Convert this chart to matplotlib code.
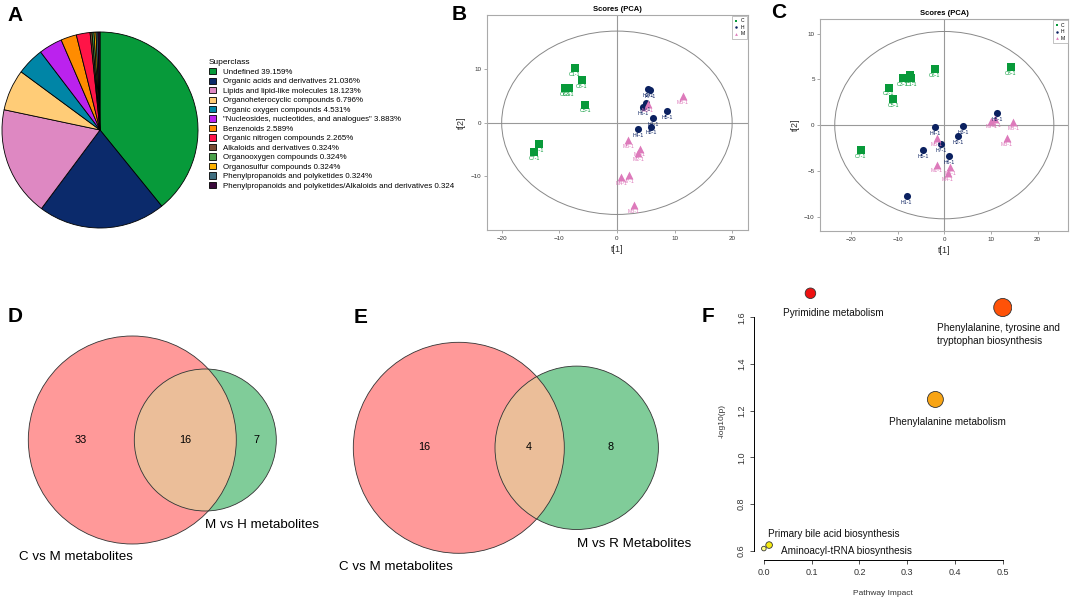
import matplotlib
matplotlib.use("Agg")
import matplotlib.pyplot as plt
from matplotlib.patches import Circle, Ellipse
import numpy as np

plt.rcParams['font.family'] = ['Liberation Sans', 'DejaVu Sans']

W, H = 1072, 607

# ---------------- Data ----------------
superclass_labels = [
    "Undefined 39.159%",
    "Organic acids and derivatives 21.036%",
    "Lipids and lipid-like molecules 18.123%",
    "Organoheterocyclic compounds 6.796%",
    "Organic oxygen compounds 4.531%",
    "\"Nucleosides, nucleotides, and analogues\" 3.883%",
    "Benzenoids 2.589%",
    "Organic nitrogen compounds 2.265%",
    "Alkaloids and derivatives 0.324%",
    "Organooxygen compounds 0.324%",
    "Organosulfur compounds 0.324%",
    "Phenylpropanoids and polyketides 0.324%",
    "Phenylpropanoids and polyketides/Alkaloids and derivatives 0.324",
]
superclass_pct = [39.159, 21.036, 18.123, 6.796, 4.531, 3.883, 2.589, 2.265,
                  0.324, 0.324, 0.324, 0.324, 0.324]
superclass_colors = ["#079a3a", "#0b2a6b", "#de88c2", "#ffcc77", "#0085a6",
                     "#bb22ee", "#ff8c00", "#ff1447", "#7a4a32", "#4aa04a",
                     "#ffb300", "#3f6e80", "#3b0a3b"]

# PCA (B)
B_C_x = [-7.3, -6.1, -9.0, -8.4, -5.5, -13.6, -14.4]
B_C_y = [10.2, 8.0, 6.5, 6.4, 3.4, -3.9, -5.5]
B_C_lab = ['C1-1', 'C8-1', 'C6-1', 'C3-1', 'C5-1', 'C4-1', 'C7-1']
B_H_x = [5.4, 5.8, 5.0, 4.6, 8.7, 6.3, 3.7, 5.9]
B_H_y = [6.3, 6.1, 3.7, 3.0, 2.2, 0.8, -1.1, -0.7]
B_H_lab = ['H2-1', 'H7-1', 'H3-1', 'H6-1', 'H5-1', 'H1-1', 'H4-1', 'H8-1']
B_M_x = [11.4, 5.4, 2.0, 4.0, 3.7, 0.75, 2.1, 2.9]
B_M_y = [5.0, 3.5, -3.2, -4.8, -5.7, -10.2, -9.8, -15.3]
B_M_lab = ['M5-1', 'M8-1', 'M6-1', 'M1-1', 'M2-1', 'M4-1', 'M7-1', 'M3-1']
B_ellipse = (20.0, 17.1)

# PCA (C)
C_C_x = [14.3, -2.1, -7.4, -8.9, -7.1, -11.9, -10.9, -17.9]
C_C_y = [6.3, 6.1, 5.5, 5.1, 5.1, 4.1, 2.8, -2.7]
C_C_lab = ['C8-1', 'C6-1', 'C4-1', 'C3-1', 'C1-1', 'C2-1', 'C5-1', 'C7-1']
C_H_x = [11.3, -2.0, 4.1, 3.0, -4.6, -0.7, 1.0, -8.1]
C_H_y = [1.3, -0.2, -0.07, -1.2, -2.7, -2.1, -3.4, -7.7]
C_H_lab = ['H8-1', 'H4-1', 'H3-1', 'H2-1', 'H5-1', 'H7-1', 'H6-1', 'H1-1']
C_M_x = [10.1, 10.9, 14.8, 13.4, -1.6, -1.6, 1.3, 0.7]
C_M_y = [0.5, 0.7, 0.3, -1.4, -1.4, -4.3, -4.6, -5.2]
C_M_lab = ['M7-1', 'M2-1', 'M8-1', 'M3-1', 'M5-1', 'M1-1', 'M6-1', 'M4-1']
C_ellipse = (23.5, 10.22)

# Venn (D, E): [only left, both, only right]
D_counts = [33, 16, 7]
D_names = ["C vs M metabolites", "M vs H metabolites"]
E_counts = [16, 4, 8]
E_names = ["C vs M metabolites", "M vs R Metabolites"]

# Pathway (F)
path_names = ["Pyrimidine metabolism",
              "Phenylalanine, tyrosine and\ntryptophan biosynthesis",
              "Phenylalanine metabolism",
              "Primary bile acid biosynthesis",
              "Aminoacyl-tRNA biosynthesis"]
path_impact = [0.0975, 0.5, 0.359, 0.011, 0.0]
path_logp = [1.703, 1.642, 1.248, 0.624, 0.609]
path_colors = ["#ee1111", "#ff5208", "#f8a414", "#f5ea10", "#ffff80"]

# ---------------- Figure ----------------
fig = plt.figure(figsize=(W / 100, H / 100), dpi=100)


def px_axes(l, t, r, b, **kw):
    return fig.add_axes([l / W, 1 - b / H, (r - l) / W, (b - t) / H], **kw)


def letter(x, yc, s):
    fig.text(x / W, 1 - yc / H, s, fontsize=15, fontweight='bold', ha='left', va='center')


# ---- A: pie ----
axA = px_axes(1, 30, 199, 230)
wedges, _ = axA.pie(superclass_pct, colors=superclass_colors, startangle=90,
                    counterclock=False, radius=1,
                    wedgeprops=dict(edgecolor='black', linewidth=0.6))
axA.set_xlim(-1.01, 1.01)
axA.set_ylim(-1.01, 1.01)
leg = axA.legend(wedges, superclass_labels, title="Superclass", loc='upper left',
                 bbox_to_anchor=(209 / W, 1 - 59.5 / H), bbox_transform=fig.transFigure,
                 frameon=False, fontsize=5.7, title_fontsize=6, alignment='left',
                 handlelength=0.85, handleheight=0.85, labelspacing=0.2,
                 handletextpad=0.9, borderaxespad=0, borderpad=0)
for h in leg.legend_handles:
    h.set_linewidth(0.6)
letter(7, 15.5, 'A')

# ---- PCA panels ----
col_C, col_H, col_M = "#089a3a", "#0b2160", "#dd7abb"


def pca_panel(ax, groups, ell, xlim, ylim, yticks):
    ax.set_xlim(*xlim)
    ax.set_ylim(*ylim)
    ax.axhline(0, color='#999999', lw=0.8, zorder=1)
    ax.axvline(0, color='#999999', lw=0.8, zorder=1)
    ax.add_patch(Ellipse((0, 0), 2 * ell[0], 2 * ell[1], fill=False,
                         edgecolor='#888888', lw=0.7, zorder=1))
    for xs, ys, labs, c, m, s, name in groups:
        ax.scatter(xs, ys, marker=m, s=s, color=c, zorder=3, label=name, linewidths=0)
        for x, y, lb in zip(xs, ys, labs):
            ax.annotate(lb, (x, y), xytext=(0, -4.6), textcoords='offset points',
                        ha='center', va='center', fontsize=3.8, color=c, zorder=4)
    for sp in ax.spines.values():
        sp.set_color('#aaaaaa')
        sp.set_linewidth(0.8)
    ax.set_xticks([-20, -10, 0, 10, 20])
    ax.set_yticks(yticks)
    ax.tick_params(labelsize=4.5, colors='#333333', length=2, width=0.5, pad=2)
    ax.tick_params(color='#888888')
    ax.set_xlabel('t[1]', fontsize=6.5, color='#333333', labelpad=3)
    ax.set_ylabel('t[2]', fontsize=6.5, color='#333333', labelpad=3)
    ax.set_title('Scores (PCA)', fontsize=5.5, fontweight='bold', pad=3)
    lg = ax.legend(loc='upper right', fontsize=3.6, markerscale=0.35, handlelength=0.6,
                   handletextpad=0.5, labelspacing=0.3, borderpad=0.5, borderaxespad=0.15,
                   fancybox=False, framealpha=1, edgecolor='#aaaaaa')
    lg.get_frame().set_linewidth(0.5)


axB = px_axes(486.7, 15, 747.7, 230)
pca_panel(axB, [(B_C_x, B_C_y, B_C_lab, col_C, 's', 26, 'C'),
                (B_H_x, B_H_y, B_H_lab, col_H, 'o', 26, 'H'),
                (B_M_x, B_M_y, B_M_lab, col_M, '^', 32, 'M')],
          B_ellipse, (-22.6, 22.7), (-20.0, 20.1), [-10, 0, 10])
letter(452, 14.5, 'B')

axC = px_axes(820.3, 19.3, 1068.3, 231)
pca_panel(axC, [(C_C_x, C_C_y, C_C_lab, col_C, 's', 26, 'C'),
                (C_H_x, C_H_y, C_H_lab, col_H, 'o', 26, 'H'),
                (C_M_x, C_M_y, C_M_lab, col_M, '^', 32, 'M')],
          C_ellipse, (-26.6, 26.6), (-11.55, 11.55), [-10, -5, 0, 5, 10])
letter(771, 13, 'C')

# ---- Venn panels (pixel coordinates) ----
axV = px_axes(0, 0, W, H)
axV.set_xlim(0, W)
axV.set_ylim(H, 0)
axV.axis('off')
red_c, green_c, both_c = "#ff9999", "#80cc99", "#ebbe99"


def venn(counts, names, cl, cr, rl, rr, textpos, namepos):
    left = Circle(cl, rl, facecolor=red_c, edgecolor='none')
    right = Circle(cr, rr, facecolor=green_c, edgecolor='none')
    axV.add_patch(left)
    axV.add_patch(right)
    ov = Circle(cr, rr, facecolor=both_c, edgecolor='none')
    axV.add_patch(ov)
    ov.set_clip_path(left)
    axV.add_patch(Circle(cl, rl, fill=False, edgecolor='#333333', lw=0.6))
    axV.add_patch(Circle(cr, rr, fill=False, edgecolor='#333333', lw=0.6))
    for (x, y), n in zip(textpos, counts):
        axV.text(x, y, str(n), fontsize=7.8, ha='center', va='center')
    for (x, y), n in zip(namepos, names):
        axV.text(x, y, n, fontsize=9.6, ha='left', va='center')


venn(D_counts, D_names, (132.3, 440), (205.3, 440), 104, 71,
     [(81, 440), (185, 440), (256, 440)], [(19, 557), (205, 525)])
letter(8, 317, 'D')
venn(E_counts, E_names, (458.8, 447.8), (576.7, 447.8), 105.5, 81.7,
     [(424.3, 446.7), (529, 446.7), (611, 446.7)], [(339.3, 567), (576.7, 544)])
letter(354, 317.5, 'E')

# ---- F: pathway impact ----
axF = px_axes(754.3, 283, 1012.3, 560)
sizes = [((2.3 + 9.5 * np.sqrt(v)) * 2 * 0.72) ** 2 for v in path_impact]
axF.scatter(path_impact, path_logp, s=sizes, c=path_colors, edgecolors='#333333',
            linewidths=0.6, zorder=3)
axF.set_xlim(-0.02, 0.52)
axF.set_ylim(0.56, 1.747)
for sp in ['top', 'right']:
    axF.spines[sp].set_visible(False)
axF.spines['left'].set_bounds(0.6, 1.6)
axF.spines['bottom'].set_bounds(0.0, 0.5)
for sp in ['left', 'bottom']:
    axF.spines[sp].set_linewidth(0.7)
axF.set_xticks([0.0, 0.1, 0.2, 0.3, 0.4, 0.5])
axF.set_yticks([0.6, 0.8, 1.0, 1.2, 1.4, 1.6])
axF.tick_params(labelsize=6.5, colors='#333333', length=3, width=0.6, pad=3)
for t in axF.get_yticklabels():
    t.set_rotation(90)
    t.set_va('center')
axF.set_xlabel('Pathway Impact', fontsize=6, color='#333333', labelpad=9)
axF.set_ylabel('-log10(p)', fontsize=6, color='#333333', labelpad=8)
label_pos = [(0.1456, 1.618, 'center'), (0.3628, 1.526, 'left'), (0.3837, 1.150, 'center'),
             (0.0077, 0.673, 'left'), (0.0349, 0.600, 'left')]
for (x, y, ha), name in zip(label_pos, path_names):
    axF.text(x, y, name, fontsize=7.2, ha=ha, va='center', color='#111111', linespacing=1.3)
letter(702, 316, 'F')

fig.savefig('out.png', dpi=100)
